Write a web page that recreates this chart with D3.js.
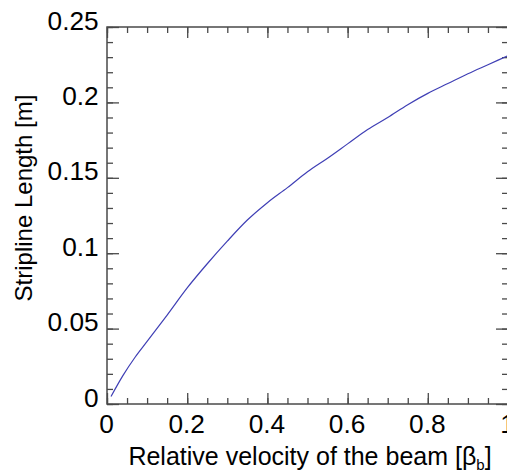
<!DOCTYPE html>
<html>
<head>
<meta charset="utf-8">
<script src="https://cdn.jsdelivr.net/npm/d3@7"></script>
<style>
  body { margin: 0; background: #fff; }
  svg { display: block; font-family: "Liberation Sans", Arial, sans-serif; }
</style>
</head>
<body>
<div id="chart"></div>
<script>
// beam velocity (beta) vs stripline length [m]
const beta = [0.01, 0.04, 0.07, 0.10, 0.15, 0.20, 0.25, 0.30, 0.35, 0.40, 0.45,
              0.50, 0.55, 0.60, 0.65, 0.70, 0.75, 0.80, 0.85, 0.90, 0.95, 1.00];
const lengthM = [0.005, 0.019, 0.031, 0.0415, 0.059, 0.077, 0.093, 0.108, 0.122, 0.1335, 0.1435,
                 0.154, 0.163, 0.1725, 0.182, 0.190, 0.1985, 0.206, 0.2125, 0.219, 0.225, 0.231];
const xTicks = [0, 0.2, 0.4, 0.6, 0.8, 1];
const yTicks = [0, 0.05, 0.1, 0.15, 0.2, 0.25];

const svg = d3.select("#chart")
  .append("svg")
  .attr("width", 507)
  .attr("height", 475);

const margin = { top: 27, left: 107 },
      width = 401,
      height = 377;

const g = svg.append("g")
  .attr("transform", `translate(${margin.left},${margin.top})`);

const x = d3.scaleLinear().domain([0, 1]).range([0, width]);
const y = d3.scaleLinear().domain([0, 0.25]).range([height, 0]);

const axisColor = "#4a4a4a";
const fmt = d => d === 0 ? "0" : String(+d.toFixed(2));

// minor ticks
const xMinor = d3.range(0, 1.0001, 0.05);
const yMinor = d3.range(0, 0.2501, 0.01);

function styleAxis(sel) {
  sel.select(".domain").remove();
  sel.selectAll("line").attr("stroke", axisColor).attr("stroke-width", 1.3);
}

g.append("g").attr("transform", `translate(0,${height})`)
  .call(d3.axisBottom(x).tickValues(xMinor).tickSize(-6).tickFormat(""))
  .call(styleAxis);
g.append("g")
  .call(d3.axisTop(x).tickValues(xMinor).tickSize(-6).tickFormat(""))
  .call(styleAxis);
g.append("g")
  .call(d3.axisLeft(y).tickValues(yMinor).tickSize(-6).tickFormat(""))
  .call(styleAxis);
g.append("g").attr("transform", `translate(${width},0)`)
  .call(d3.axisRight(y).tickValues(yMinor).tickSize(-6).tickFormat(""))
  .call(styleAxis);

// major ticks
const xAxis = g.append("g").attr("transform", `translate(0,${height})`)
  .call(d3.axisBottom(x).tickValues(xTicks).tickSizeInner(-11).tickSizeOuter(0).tickPadding(11).tickFormat(fmt))
  .call(styleAxis);
xAxis.selectAll("text")
  .attr("fill", "#000")
  .attr("transform", "translate(-1,0) scale(1.05,1)")
  .style("font-size", "25px");

g.append("g")
  .call(d3.axisTop(x).tickValues(xTicks).tickSizeInner(-11).tickSizeOuter(0).tickFormat(""))
  .call(styleAxis);

const yAxis = g.append("g")
  .call(d3.axisLeft(y).tickValues(yTicks).tickSizeInner(-12).tickSizeOuter(0).tickPadding(8).tickFormat(fmt))
  .call(styleAxis);
yAxis.selectAll("text")
  .attr("fill", "#000")
  .attr("dy", "2")
  .attr("transform", "scale(1.05,1)")
  .style("font-size", "25px");

g.append("g").attr("transform", `translate(${width},0)`)
  .call(d3.axisRight(y).tickValues(yTicks).tickSizeInner(-12).tickSizeOuter(0).tickFormat(""))
  .call(styleAxis);

// frame
g.append("rect")
  .attr("width", width)
  .attr("height", height)
  .attr("fill", "none")
  .attr("stroke", axisColor)
  .attr("stroke-width", 1.5);

// curve
const line = d3.line()
  .x((d, i) => x(beta[i]))
  .y(d => y(d))
  .curve(d3.curveMonotoneX);

g.append("path")
  .datum(lengthM)
  .attr("d", line)
  .attr("fill", "none")
  .attr("stroke", "#3f3fb5")
  .attr("stroke-width", 1.2);

// axis titles
const xTitle = svg.append("text")
  .attr("x", 310)
  .attr("y", 465)
  .attr("text-anchor", "middle")
  .style("font-size", "25px")
  .attr("fill", "#000");
xTitle.append("tspan").text("Relative velocity of the beam [β");
xTitle.append("tspan").attr("dy", 5).style("font-size", "15px").text("b");
xTitle.append("tspan").attr("dy", -5).text("]");

svg.append("text")
  .attr("transform", `translate(32,198) rotate(-90)`)
  .attr("text-anchor", "middle")
  .style("font-size", "24px")
  .attr("fill", "#000")
  .text("Stripline Length [m]");
</script>
</body>
</html>
